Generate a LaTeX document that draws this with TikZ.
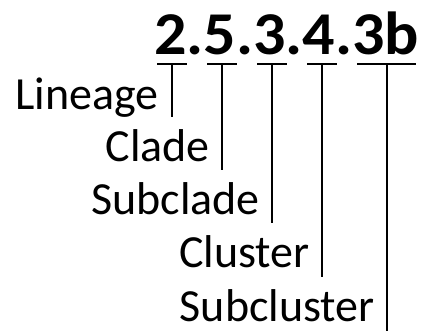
\documentclass[tikz,border=0pt]{standalone}
\usepackage{fontspec}
\setmainfont{Carlito}
\begin{document}
\begin{tikzpicture}[x=1pt,y=-1pt,
  lbl/.style={font=\fontsize{46}{46}\selectfont, inner sep=0pt, anchor=base east},
  tick/.style={line width=1.6pt, line cap=butt}]
\useasboundingbox (0,0) rectangle (422,334);
\node[font=\bfseries\fontsize{64}{64}\selectfont, inner sep=0pt, anchor=base west] (code) at (154,55) {\scalebox{1.0}[0.95]{2.5.3.4.3b}};
% underline bars
\draw[tick] (157,64) -- (187,64);
\draw[tick] (207,64) -- (237,64);
\draw[tick] (257,64) -- (287,64);
\draw[tick] (307,64) -- (337,64);
\draw[tick] (357,64) -- (416,64);
\coordinate (u1) at (172,64);
\coordinate (u2) at (222,64);
\coordinate (u3) at (272,64);
\coordinate (u4) at (322,64);
\coordinate (u5) at (387,64);
% labels
\node[lbl] (lin) at (159,109) {Lineage};
\node[lbl] (cla) at (210,161) {Clade};
\node[lbl] (sub) at (260,214) {Subclade};
\node[lbl] (clu) at (310,267) {Cluster};
\node[lbl] (scl) at (375,321) {Subcluster};
% ends
\coordinate (e1) at (172,117);
\coordinate (e2) at (222,170);
\coordinate (e3) at (272,223);
\coordinate (e4) at (322,277);
\coordinate (e5) at (387,331);
\draw[tick] (u1) -- (e1);
\draw[tick] (u2) -- (e2);
\draw[tick] (u3) -- (e3);
\draw[tick] (u4) -- (e4);
\draw[tick] (u5) -- (e5);
\end{tikzpicture}
\end{document}
